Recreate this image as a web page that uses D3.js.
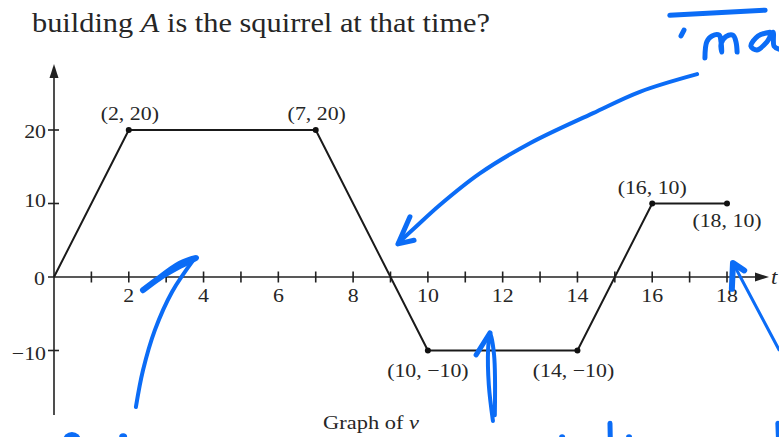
<!DOCTYPE html>
<html>
<head>
<meta charset="utf-8">
<script src="https://cdn.jsdelivr.net/npm/d3@7"></script>
<style>
  html, body { margin: 0; padding: 0; background: #fff; overflow: hidden; }
  svg { display: block; }
  text { font-family: "Liberation Serif", "Times New Roman", serif; fill: #262626; }
</style>
</head>
<body>
<svg id="chart" width="779" height="437"></svg>
<script>
// Velocity v(t): vertices of the piecewise-linear graph
const times = [0, 2, 7, 10, 14, 16, 18];
const velocities = [0, 20, 20, -10, -10, 10, 10];
// Vertices that get a dot and a coordinate label
const labelledIdx = [1, 2, 3, 4, 5, 6];
const pointLabels = ["(2, 20)", "(7, 20)", "(10, \u221210)", "(14, \u221210)", "(16, 10)", "(18, 10)"];

// Axis ticks
const xTicks = d3.range(1, 19);
const xTickLabels = ["2", "4", "6", "8", "10", "12", "14", "16", "18"];
const xTickLabelValues = [2, 4, 6, 8, 10, 12, 14, 16, 18];
const yTickValues = [20, 10, 0, -10];
const yTickLabels = ["20", "10", "0", "\u221210"];

const titleBefore = "building ";
const titleItalic = "A";
const titleAfter = "  is the squirrel at that time?";
const captionText = "Graph of ";
const captionVar = "v";
const axisVar = "t";

// Handwritten ink strokes, in (t, v) units
const inkArrowLong = [[17.20, 27.6], [15.67, 25.2], [14.42, 22.3], [12.73, 18.2], [11.39, 14.1], [10.32, 9.8], [9.65, 6.7], [9.20, 4.6]];
const inkArrowLongHead = [[9.52, 8.2], [9.20, 4.5], [9.63, 5.0]];
const inkTopBar = [[16.47, 35.6], [19.02, 36.3]];
const inkTopDot = [[16.77, 32.8], [16.85, 33.6]];
const inkM = [[17.41, 29.8], [17.46, 32.0], [17.60, 32.8], [17.79, 32.9], [17.84, 32.0], [17.86, 30.6], [17.84, 31.7], [17.97, 32.7], [18.16, 32.9], [18.24, 32.0], [18.27, 30.6]];
const inkA = [[19.15, 33.3], [18.83, 32.8], [18.64, 31.4], [18.80, 30.9], [19.07, 32.0], [19.23, 33.3], [19.26, 31.4], [19.39, 31.0]];
const inkArrowLeft = [[2.19, -17.7], [2.38, -12.7], [2.70, -7.2], [3.16, -2.0], [3.77, 2.6]];
const inkScribble = [[2.38, -1.8], [2.83, -0.1], [3.37, 1.5], [3.80, 2.6], [3.37, 1.8], [2.78, -0.3]];
const inkArrowMid = [[11.74, -19.6], [11.63, -14.7], [11.61, -9.9], [11.66, -7.6], [11.77, -10.6], [11.79, -18.8]];
const inkArrowMidBarb = [[11.66, -7.6], [11.29, -10.6]];
const inkArrowRight = [[19.39, -9.9], [18.16, 1.9]];
const inkArrowRightHead = [[18.13, -1.6], [18.16, 1.9], [18.46, 0.9]];
const inkBlobs = [[0.48, -22.3, 9], [1.85, -21.8, 4], [13.59, -21.8, 3], [15.38, -21.8, 3]];
const inkTicks = [[[14.87, -19.9], [14.88, -22.5]], [[19.36, -19.9], [19.38, -22.5]]];

const svg = d3.select("#chart");
const x = d3.scaleLinear().domain([0, 18]).range([54, 727]);
const y = d3.scaleLinear().domain([-10, 20]).range([350.5, 130]);
const ink = "#0b6cf6";
const stretch = 1.15;   // typeface is set slightly wide

function label(g, str, px, py, anchor, size, italic) {
  const t = g.append("text")
    .attr("transform", `translate(${px},${py}) scale(${stretch},1)`)
    .attr("text-anchor", anchor)
    .attr("font-size", size)
    .text(str);
  if (italic) t.attr("font-style", "italic");
  return t;
}

// Title line
svg.append("text")
  .attr("x", 32).attr("y", 32)
  .attr("font-size", 27)
  .attr("textLength", 458).attr("lengthAdjust", "spacingAndGlyphs")
  .call(t => {
    t.append("tspan").text(titleBefore);
    t.append("tspan").attr("font-style", "italic").text(titleItalic);
    t.append("tspan").text(titleAfter);
  });

// Axes
const axes = svg.append("g").attr("stroke", "#222").attr("stroke-width", 1.6);
axes.append("line").attr("x1", x(0)).attr("x2", x(0)).attr("y1", 415).attr("y2", 74);
axes.append("line").attr("x1", x(0) - 6).attr("x2", 758).attr("y1", y(0)).attr("y2", y(0));
svg.append("path").attr("fill", "#222")
  .attr("d", `M${x(0)},64 L${x(0) - 4.5},78 L${x(0) + 4.5},78 Z`);
svg.append("path").attr("fill", "#222")
  .attr("d", `M769,${y(0)} L755,${y(0) - 4.5} L755,${y(0) + 4.5} Z`);

// x ticks and labels
axes.selectAll(".xt").data(xTicks).join("line")
  .attr("x1", d => x(d)).attr("x2", d => x(d))
  .attr("y1", y(0) - 5.5).attr("y2", y(0) + 5.5);
const xl = svg.append("g");
xTickLabels.forEach((s, i) => label(xl, s, x(xTickLabelValues[i]), y(0) + 25, "middle", 19));
label(svg, axisVar, 771, y(0) + 7, "start", 20, true);

// y ticks and labels
axes.selectAll(".yt").data(yTickValues.filter(d => d !== 0)).join("line")
  .attr("x1", x(0) - 6).attr("x2", x(0) + 5)
  .attr("y1", d => y(d)).attr("y2", d => y(d));
const yBase = { 20: 7.5, 10: 3.5, 0: 8, "-10": 9.5 };
const yl = svg.append("g");
yTickLabels.forEach((s, i) => {
  const v = yTickValues[i];
  label(yl, s, v === 0 ? 45 : 46, y(v) + yBase[v], "end", 19);
});

// The velocity graph
const pts = times.map((t, i) => [t, velocities[i]]);
svg.append("path")
  .attr("fill", "none").attr("stroke", "#1a1a1a").attr("stroke-width", 2)
  .attr("stroke-linejoin", "round")
  .attr("d", d3.line().x(d => x(d[0])).y(d => y(d[1]))(pts));

svg.selectAll(".dot").data(labelledIdx).join("circle")
  .attr("cx", i => x(times[i])).attr("cy", i => y(velocities[i])).attr("r", 3)
  .attr("fill", "#111");

// Coordinate labels: above for the upper plateau and (16,10), below otherwise
const place = [[1, -10], [1, -10], [0, 26.5], [-4, 26.5], [0, -9.5], [0, 23.5]];
const pl = svg.append("g");
labelledIdx.forEach((idx, k) => {
  label(pl, pointLabels[k], x(times[idx]) + place[k][0], y(velocities[idx]) + place[k][1], "middle", 19);
});

// Caption
const cap = svg.append("text")
  .attr("transform", `translate(371,429) scale(${stretch},1)`)
  .attr("text-anchor", "middle").attr("font-size", 19.5);
cap.append("tspan").text(captionText);
cap.append("tspan").attr("font-style", "italic").text(captionVar);

// Ink annotations
const inkLayer = svg.append("g").attr("fill", "none").attr("stroke", ink)
  .attr("stroke-linecap", "round").attr("stroke-linejoin", "round");
const smooth = d3.line().x(d => x(d[0])).y(d => y(d[1])).curve(d3.curveCatmullRom.alpha(0.5));
const straight = d3.line().x(d => x(d[0])).y(d => y(d[1]));

inkLayer.append("path").attr("d", smooth(inkArrowLong)).attr("stroke-width", 4);
inkLayer.append("path").attr("d", straight(inkArrowLongHead)).attr("stroke-width", 5);
inkLayer.append("path").attr("d", straight(inkTopBar)).attr("stroke-width", 5);
inkLayer.append("path").attr("d", straight(inkTopDot)).attr("stroke-width", 5);
inkLayer.append("path").attr("d", smooth(inkM)).attr("stroke-width", 5);
inkLayer.append("path").attr("d", smooth(inkA)).attr("stroke-width", 5);
inkLayer.append("path").attr("d", smooth(inkArrowLeft)).attr("stroke-width", 4);
inkLayer.append("path").attr("d", smooth(inkScribble)).attr("stroke-width", 6);
inkLayer.append("path").attr("d", smooth(inkArrowMid)).attr("stroke-width", 4);
inkLayer.append("path").attr("d", straight(inkArrowMidBarb)).attr("stroke-width", 5);
inkLayer.append("path").attr("d", straight(inkArrowRight)).attr("stroke-width", 3);
inkLayer.append("path").attr("d", straight(inkArrowRightHead)).attr("stroke-width", 6);
inkTicks.forEach(seg => inkLayer.append("path").attr("d", straight(seg)).attr("stroke-width", 5));
svg.selectAll(".blob").data(inkBlobs).join("circle")
  .attr("cx", d => x(d[0])).attr("cy", d => y(d[1])).attr("r", d => d[2])
  .attr("fill", ink);
</script>
</body>
</html>
